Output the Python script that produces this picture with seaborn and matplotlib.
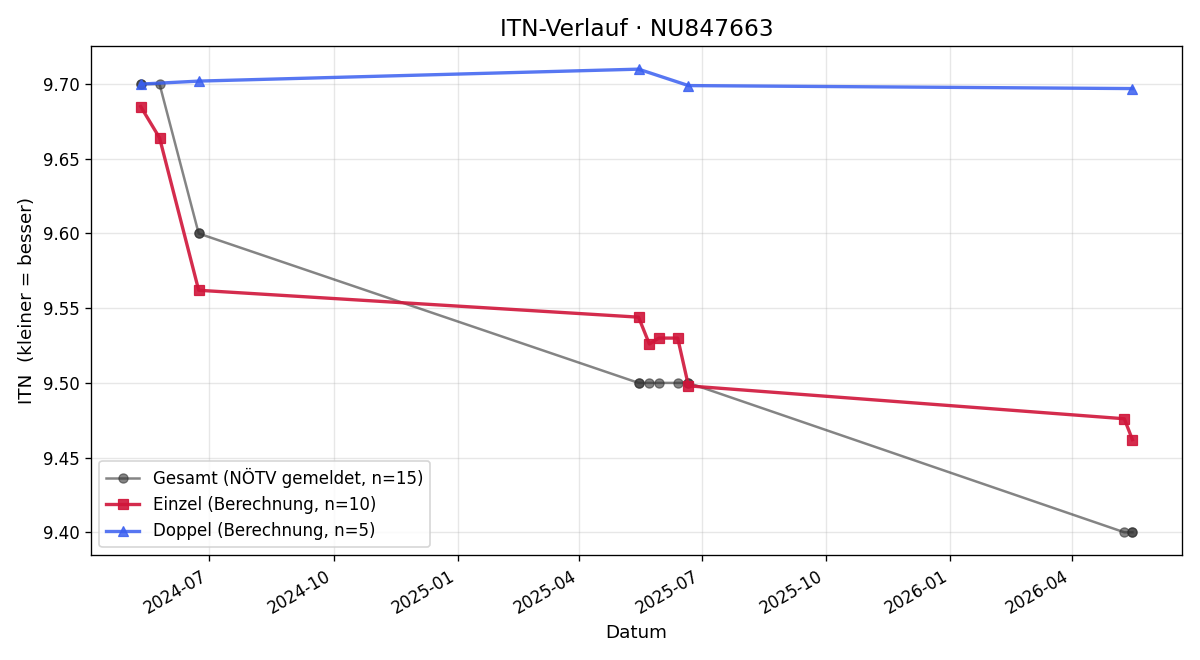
import pandas as pd
import numpy as np
import matplotlib
matplotlib.use('Agg')
import matplotlib.pyplot as plt
import matplotlib.dates as mdates
import seaborn as sns

# Einzel (singles) ratings
einzel_dates = ['2024-05-11', '2024-05-25', '2024-06-23', '2025-05-15', '2025-05-23',
                '2025-05-30', '2025-06-13', '2025-06-21', '2026-05-10', '2026-05-16']
einzel_itn = [9.685, 9.664, 9.562, 9.544, 9.526, 9.530, 9.530, 9.498, 9.476, 9.462]

# Doppel (doubles) ratings
doppel_dates = ['2024-05-11', '2024-06-23', '2025-05-15', '2025-06-21', '2026-05-16']
doppel_itn = [9.700, 9.702, 9.710, 9.699, 9.697]

# reported overall ITN (one per match, n=15)
gesamt_dates = ['2024-05-11', '2024-05-11', '2024-05-25', '2024-06-23', '2024-06-23',
                '2025-05-15', '2025-05-15', '2025-05-23', '2025-05-30', '2025-06-13',
                '2025-06-21', '2025-06-21', '2026-05-10', '2026-05-16', '2026-05-16']
gesamt_itn = [9.70, 9.70, 9.70, 9.60, 9.60,
              9.50, 9.50, 9.50, 9.50, 9.50,
              9.50, 9.50, 9.40, 9.40, 9.40]

df_g = pd.DataFrame({'Datum': pd.to_datetime(gesamt_dates), 'ITN': gesamt_itn})
df_e = pd.DataFrame({'Datum': pd.to_datetime(einzel_dates), 'ITN': einzel_itn})
df_d = pd.DataFrame({'Datum': pd.to_datetime(doppel_dates), 'ITN': doppel_itn})

fig, ax = plt.subplots(figsize=(10, 5.5), dpi=120)

c_g, c_e, c_d = '#333333', '#d0153a', '#3a5ff0'
sns.lineplot(data=df_g, x='Datum', y='ITN', ax=ax, estimator=None, sort=False,
             color=c_g, alpha=0.6, linewidth=1.5, marker='o', markersize=5.5,
             markeredgecolor=c_g, label=f'Gesamt (NÖTV gemeldet, n={len(df_g)})')
sns.lineplot(data=df_e, x='Datum', y='ITN', ax=ax, estimator=None, sort=False,
             color=c_e, alpha=0.9, linewidth=2, marker='s', markersize=6.5,
             markeredgecolor=c_e, label=f'Einzel (Berechnung, n={len(df_e)})')
sns.lineplot(data=df_d, x='Datum', y='ITN', ax=ax, estimator=None, sort=False,
             color=c_d, alpha=0.85, linewidth=2, marker='^', markersize=6.5,
             markeredgecolor=c_d, label=f'Doppel (Berechnung, n={len(df_d)})')

ax.set_title('ITN-Verlauf · NU847663', fontsize=14)
ax.set_xlabel('Datum', fontsize=11)
ax.set_ylabel('ITN  (kleiner = besser)', fontsize=11)
ax.grid(True, alpha=0.3)
ax.xaxis.set_major_locator(mdates.MonthLocator(bymonth=[1, 4, 7, 10]))
ax.xaxis.set_major_formatter(mdates.DateFormatter('%Y-%m'))
ax.legend(loc='lower left')
fig.autofmt_xdate()

plt.tight_layout()
plt.savefig('out.png')
